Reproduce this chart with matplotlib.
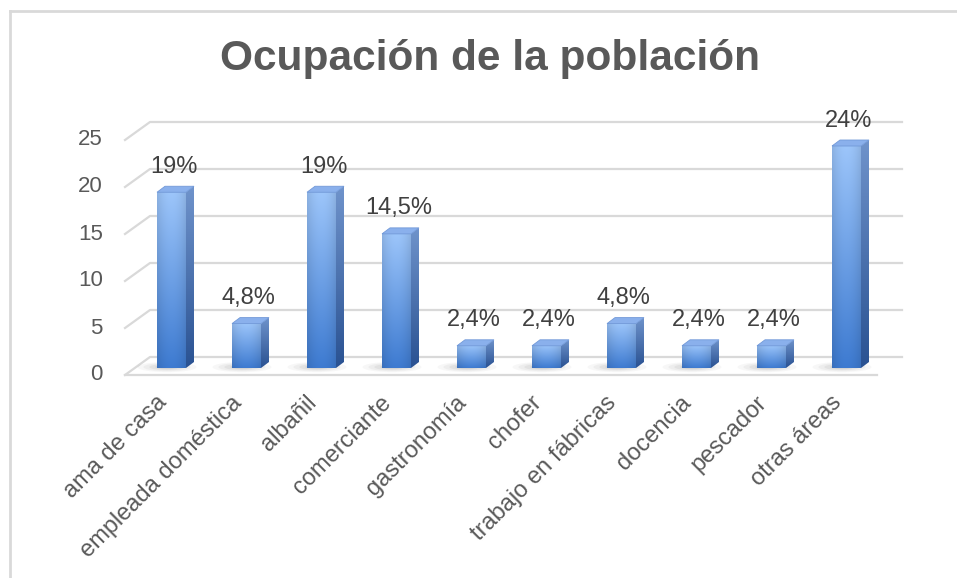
import numpy as np
import matplotlib
matplotlib.use("Agg")
import matplotlib.pyplot as plt
from matplotlib.patches import Polygon, Ellipse
from matplotlib.lines import Line2D
from matplotlib.colors import to_rgb

categorias = ["ama de casa", "empleada doméstica", "albañil", "comerciante",
              "gastronomía", "chofer", "trabajo en fábricas", "docencia",
              "pescador", "otras áreas"]
valores = [19, 4.8, 19, 14.5, 2.4, 2.4, 4.8, 2.4, 2.4, 24]
etiquetas = ["19%", "4,8%", "19%", "14,5%", "2,4%", "2,4%", "4,8%", "2,4%", "2,4%", "24%"]
ticks_y = [0, 5, 10, 15, 20, 25]

plt.rcParams['font.family'] = ['Liberation Sans', 'DejaVu Sans']

W, H = 957, 578
fig = plt.figure(figsize=(W / 100, H / 100), dpi=100)

# box of the plot area in pixels (front-left corner at 125,375 ; back-top at 902,119)
box = [125 / W, (H - 375) / H, (902 - 125) / W, (375 - 119) / H]
xlim = (-0.62, 9.74)

# axes for the walls / grid (front edge scale)
ax = fig.add_axes(box)
ax.set_xlim(*xlim)
ax.set_ylim(0, 256 / 9.4)
ax.axis('off')

# axes for the bars (mid depth, slightly smaller scale)
ax2 = fig.add_axes(box)
ax2.set_xlim(*xlim)
k = 9.25
ax2.set_ylim(-7 / k, (368 - 119) / k)
ax2.axis('off')

grid_c = '#D9D9D9'
bx, by = 25 / 75, 18 / 9.4
for t in ticks_y:
    ax.plot([xlim[0], xlim[0] + bx, xlim[1]], [t, t + by, t + by],
            color=grid_c, lw=1.6, clip_on=False, zorder=1)
    ax.annotate(str(t), xy=(xlim[0], t), xytext=(-16, 0), textcoords='offset points',
                ha='right', va='center', fontsize=16, color='#595959',
                annotation_clip=False)
ax.plot([xlim[0], xlim[1] - bx], [0, 0], color=grid_c, lw=1.6, clip_on=False, zorder=1)

# category labels
for i, c in enumerate(categorias):
    ax.annotate(c, xy=(i, 0), xytext=(-11.5, -12), textcoords='offset points',
                ha='right', va='top', rotation=45, rotation_mode='anchor',
                fontsize=17, color='#595959', annotation_clip=False)

# bars with gradients
w = 29 / 75
sx, sy = 8 / 75, 6 / k
front_top, front_bot = np.array(to_rgb('#9CC5FA')), np.array(to_rgb('#3E7BD1'))
side_top, side_bot = np.array(to_rgb('#6F93CB')), np.array(to_rgb('#2A5292'))
cap_c = '#8AB0EC'

n = 64
tt = np.linspace(0, 1, n)[:, None, None]
hx = np.linspace(-1, 1, 32)[None, :, None]
shade = 1 - 0.10 * hx ** 2
front_img = np.clip((front_top * (1 - tt) + front_bot * tt) * shade, 0, 1)
side_img = side_top * (1 - tt) + side_bot * tt
side_img = np.repeat(side_img, 4, axis=1)

for i, v in enumerate(valores):
    x0, x1 = i - w / 2, i + w / 2
    # soft shadow on the floor
    for s, a in [(1.0, 0.05), (0.8, 0.07), (0.6, 0.09), (0.4, 0.12)]:
        ax2.add_patch(Ellipse((i - 0.06, 0.1), (w + 0.4) * s, 1.1 * s,
                              color='#6F6F6F', alpha=a, lw=0, zorder=2))
    ax2.imshow(front_img, extent=[x0, x1, 0, v], aspect='auto',
               interpolation='bilinear', zorder=4)
    side = Polygon([(x1, 0), (x1 + sx, sy), (x1 + sx, v + sy), (x1, v)],
                   closed=True, facecolor='none', edgecolor='none')
    ax2.add_patch(side)
    im = ax2.imshow(side_img, extent=[x1, x1 + sx, 0, v + sy], aspect='auto',
                    interpolation='bilinear', zorder=4)
    im.set_clip_path(side)
    ax2.add_patch(Polygon([(x0, v), (x1, v), (x1 + sx, v + sy), (x0 + sx, v + sy)],
                          closed=True, facecolor=cap_c, edgecolor='#7299D8',
                          lw=0.6, zorder=5))
    ax2.annotate(etiquetas[i], xy=(i + 0.03, v + sy), xytext=(0, 14),
                 textcoords='offset points', ha='center', va='center',
                 fontsize=17, color='#404040', annotation_clip=False, zorder=6)

ax2.set_xlim(*xlim)
ax2.set_ylim(-7 / k, (368 - 119) / k)

fig.text(490 / W, (H - 70) / H, "Ocupación de la población", ha='center',
         va='baseline', fontsize=30.5, fontweight='bold', color='#595959')

# chart frame (left and top edges)
fig.add_artist(Line2D([10 / W, 10 / W], [0, 1 - 10.5 / H], color='#D9D9D9', lw=2))
fig.add_artist(Line2D([10 / W, 1], [1 - 10.5 / H, 1 - 10.5 / H], color='#D9D9D9', lw=2))

fig.savefig('out.png', dpi=100)
